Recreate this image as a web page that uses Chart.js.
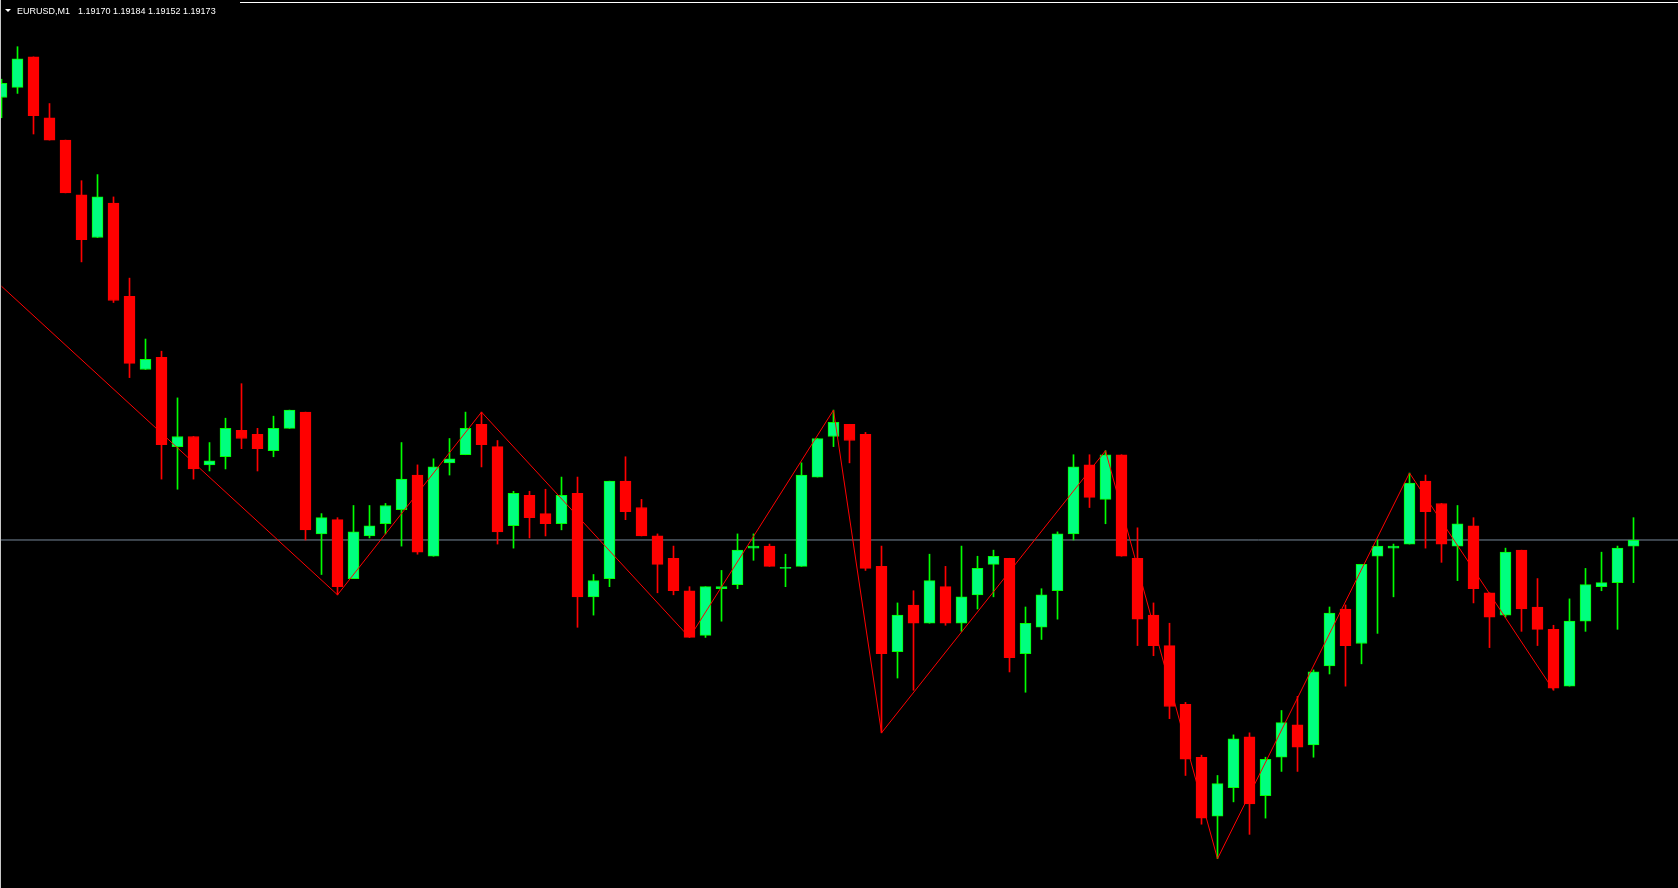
<!DOCTYPE html>
<html>
<head>
<meta charset="utf-8">
<title>EURUSD,M1</title>
<script src="https://cdn.jsdelivr.net/npm/chart.js@4.4.1/dist/chart.umd.min.js"></script>
<style>
  html, body { margin: 0; padding: 0; background: #000; overflow: hidden; }
  #zone { position: relative; width: 1678px; height: 888px; background: #000; }
  #graphique { position: absolute; left: 0; top: 0; }
  #bordGauche { position: absolute; left: 0; top: 0; width: 1px; height: 888px; background: #c8c8c8; }
  #bordHaut { position: absolute; left: 240px; right: 0; top: 2px; height: 1px; background: #fff; }
  #fleche { position: absolute; left: 5px; top: 9px; width: 0; height: 0;
            border-left: 3px solid transparent; border-right: 3px solid transparent; border-top: 3px solid #fff; }
  .titre { position: absolute; top: 7px; color: #fff; font-family: "Liberation Sans", Arial, sans-serif;
           font-size: 9px; line-height: 9px; white-space: pre; }
  #symbole { left: 17px; }
  #prix { left: 78px; }
</style>
</head>
<body>
<div id="zone">
  <canvas id="graphique" width="1678" height="888"></canvas>
  <div id="bordGauche"></div>
  <div id="bordHaut"></div>
  <div id="fleche"></div>
  <span class="titre" id="symbole"></span>
  <span class="titre" id="prix"></span>
</div>
<script>
// Bougies EURUSD M1 (103 barres, de gauche à droite)

const symbol = "EURUSD";
const period = "M1";

const opens = [
  1.19391, 1.19396, 1.19411, 1.19381, 1.19370, 1.19343, 1.19322, 1.19339, 1.19293, 1.19257,
  1.19263, 1.19219, 1.19224, 1.19210, 1.19214, 1.19227, 1.19225, 1.19217, 1.19228, 1.19236,
  1.19176, 1.19183, 1.19154, 1.19175, 1.19181, 1.19188, 1.19205, 1.19165, 1.19211, 1.19215,
  1.19230, 1.19219, 1.19180, 1.19195, 1.19186, 1.19181, 1.19196, 1.19145, 1.19154, 1.19202,
  1.19189, 1.19175, 1.19164, 1.19148, 1.19126, 1.19149, 1.19151, 1.19169, 1.19170, 1.19159,
  1.19160, 1.19204, 1.19224, 1.19230, 1.19225, 1.19160, 1.19118, 1.19141, 1.19132, 1.19150,
  1.19132, 1.19146, 1.19161, 1.19164, 1.19117, 1.19130, 1.19148, 1.19176, 1.19210, 1.19193,
  1.19215, 1.19164, 1.19136, 1.19121, 1.19092, 1.19066, 1.19037, 1.19051, 1.19076, 1.19047,
  1.19066, 1.19082, 1.19072, 1.19111, 1.19139, 1.19122, 1.19165, 1.19169, 1.19171, 1.19202,
  1.19191, 1.19170, 1.19180, 1.19147, 1.19136, 1.19168, 1.19140, 1.19129, 1.19101, 1.19133,
  1.19150, 1.19152, 1.19170,
];
const highs = [
  1.19400, 1.19416, 1.19411, 1.19388, 1.19370, 1.19350, 1.19353, 1.19342, 1.19302, 1.19272,
  1.19266, 1.19243, 1.19224, 1.19221, 1.19233, 1.19250, 1.19228, 1.19234, 1.19237, 1.19236,
  1.19186, 1.19184, 1.19190, 1.19190, 1.19191, 1.19221, 1.19210, 1.19213, 1.19223, 1.19236,
  1.19236, 1.19222, 1.19197, 1.19197, 1.19198, 1.19204, 1.19204, 1.19156, 1.19202, 1.19214,
  1.19193, 1.19176, 1.19170, 1.19150, 1.19150, 1.19158, 1.19176, 1.19176, 1.19171, 1.19166,
  1.19211, 1.19223, 1.19237, 1.19230, 1.19226, 1.19170, 1.19142, 1.19148, 1.19166, 1.19160,
  1.19170, 1.19165, 1.19168, 1.19164, 1.19140, 1.19149, 1.19177, 1.19215, 1.19215, 1.19217,
  1.19215, 1.19179, 1.19142, 1.19132, 1.19093, 1.19067, 1.19057, 1.19077, 1.19078, 1.19066,
  1.19089, 1.19096, 1.19109, 1.19140, 1.19141, 1.19161, 1.19173, 1.19171, 1.19206, 1.19205,
  1.19191, 1.19190, 1.19184, 1.19147, 1.19169, 1.19168, 1.19154, 1.19131, 1.19144, 1.19159,
  1.19167, 1.19170, 1.19184,
];
const lows = [
  1.19381, 1.19393, 1.19373, 1.19370, 1.19344, 1.19310, 1.19322, 1.19290, 1.19253, 1.19257,
  1.19203, 1.19198, 1.19203, 1.19207, 1.19208, 1.19218, 1.19207, 1.19214, 1.19228, 1.19173,
  1.19156, 1.19146, 1.19154, 1.19174, 1.19176, 1.19170, 1.19166, 1.19165, 1.19205, 1.19215,
  1.19209, 1.19171, 1.19169, 1.19174, 1.19175, 1.19178, 1.19130, 1.19136, 1.19150, 1.19183,
  1.19175, 1.19147, 1.19146, 1.19125, 1.19125, 1.19133, 1.19149, 1.19163, 1.19160, 1.19150,
  1.19160, 1.19204, 1.19219, 1.19211, 1.19158, 1.19078, 1.19105, 1.19099, 1.19132, 1.19131,
  1.19128, 1.19139, 1.19145, 1.19108, 1.19098, 1.19124, 1.19134, 1.19173, 1.19189, 1.19181,
  1.19165, 1.19121, 1.19116, 1.19085, 1.19057, 1.19033, 1.19016, 1.19044, 1.19028, 1.19036,
  1.19059, 1.19059, 1.19066, 1.19107, 1.19101, 1.19112, 1.19127, 1.19145, 1.19171, 1.19169,
  1.19162, 1.19153, 1.19142, 1.19120, 1.19135, 1.19128, 1.19121, 1.19099, 1.19101, 1.19128,
  1.19148, 1.19129, 1.19152,
];
const closes = [
  1.19398, 1.19410, 1.19382, 1.19370, 1.19344, 1.19321, 1.19342, 1.19291, 1.19260, 1.19262,
  1.19220, 1.19224, 1.19208, 1.19212, 1.19228, 1.19223, 1.19218, 1.19228, 1.19237, 1.19178,
  1.19184, 1.19150, 1.19177, 1.19180, 1.19190, 1.19203, 1.19167, 1.19209, 1.19213, 1.19228,
  1.19220, 1.19177, 1.19196, 1.19184, 1.19181, 1.19195, 1.19145, 1.19153, 1.19202, 1.19187,
  1.19175, 1.19161, 1.19148, 1.19125, 1.19150, 1.19150, 1.19168, 1.19170, 1.19160, 1.19159,
  1.19205, 1.19223, 1.19231, 1.19222, 1.19159, 1.19117, 1.19136, 1.19132, 1.19153, 1.19132,
  1.19145, 1.19159, 1.19165, 1.19115, 1.19132, 1.19146, 1.19176, 1.19209, 1.19194, 1.19215,
  1.19165, 1.19134, 1.19121, 1.19091, 1.19065, 1.19036, 1.19053, 1.19075, 1.19043, 1.19065,
  1.19083, 1.19071, 1.19108, 1.19137, 1.19121, 1.19161, 1.19170, 1.19170, 1.19201, 1.19187,
  1.19171, 1.19181, 1.19149, 1.19135, 1.19167, 1.19139, 1.19129, 1.19100, 1.19133, 1.19151,
  1.19152, 1.19169, 1.19173,
];

// Sommets du ZigZag (indice de barre, prix)
const zigzagIdx = [0, 21, 30, 43, 52, 55, 69, 76, 88, 97];
const zigzagPrice = [1.19298, 1.19146, 1.19236, 1.19125, 1.19237, 1.19078, 1.19217, 1.19016, 1.19206, 1.19099];

// Titre en haut à gauche : symbole, période et OHLC de la dernière barre
const last = opens.length - 1;
document.getElementById("symbole").textContent = symbol + "," + period;
document.getElementById("prix").textContent = [opens[last], highs[last], lows[last], closes[last]]
  .map((p) => p.toFixed(5))
  .join(" ");

// Couleurs haussières / baissières
const isUp = closes.map((c, i) => c >= opens[i]);
const bodyColors = isUp.map((up) => (up ? "#00FF7F" : "#FF0000"));
const edgeColors = isUp.map((up) => (up ? "#00FF00" : "#FF0000"));

const idx = opens.map((_, i) => i);
const xMin = -0.09375;
const xMax = 104.78125;

new Chart(document.getElementById("graphique"), {
  type: "bar",
  data: {
    datasets: [
      {
        type: "line",
        data: zigzagIdx.map((x, k) => ({ x: x, y: zigzagPrice[k] })),
        borderColor: "#FF0000",
        borderWidth: 1,
        pointRadius: 0,
        tension: 0,
        order: 0,
      },
      {
        // corps des bougies
        data: idx.map((i) => ({ x: i, y: [opens[i], closes[i]] })),
        backgroundColor: bodyColors,
        borderColor: edgeColors,
        borderWidth: 1,
        borderSkipped: false,
        barThickness: 11,
        minBarLength: 1,
        grouped: false,
        order: 1,
      },
      {
        // mèches
        data: idx.map((i) => ({ x: i, y: [lows[i], highs[i]] })),
        backgroundColor: edgeColors,
        borderWidth: 0,
        barThickness: 1,
        grouped: false,
        order: 2,
      },
      {
        // ligne du Bid
        type: "line",
        data: [
          { x: xMin, y: closes[last] },
          { x: xMax, y: closes[last] },
        ],
        borderColor: "#778899",
        borderWidth: 1,
        pointRadius: 0,
        order: 3,
      },
    ],
  },
  options: {
    responsive: false,
    animation: false,
    events: [],
    layout: { padding: 0 },
    plugins: { legend: { display: false }, tooltip: { enabled: false } },
    scales: {
      x: { type: "linear", min: xMin, max: xMax, offset: false, display: false, grid: { display: false } },
      y: { type: "linear", min: 1.1900157, max: 1.1943901, display: false, grid: { display: false } },
    },
  },
});
</script>
</body>
</html>
